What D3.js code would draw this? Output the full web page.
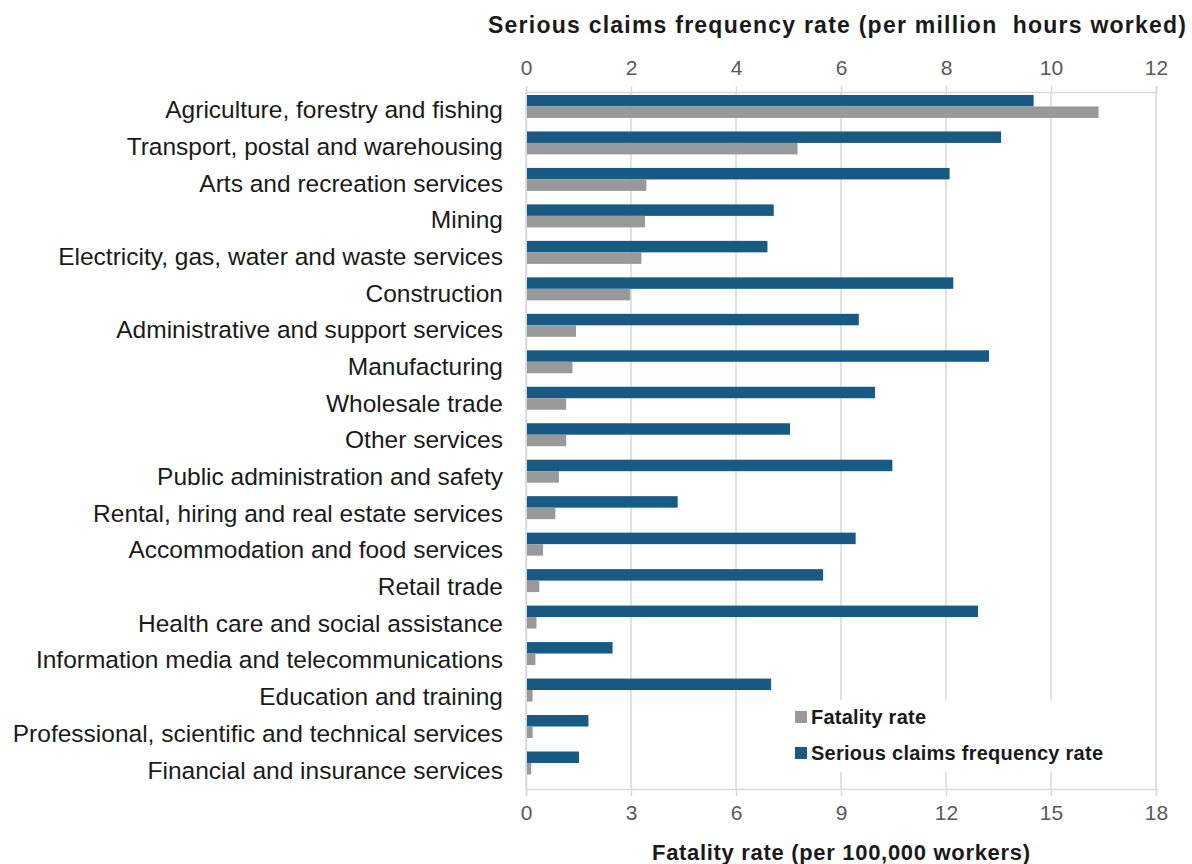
<!DOCTYPE html>
<html>
<head>
<meta charset="utf-8">
<script src="https://cdn.jsdelivr.net/npm/d3@7"></script>
<style>
  body { margin: 0; background: #fff; }
  text { font-family: "Liberation Sans", Arial, sans-serif; }
</style>
</head>
<body>
<script>
// industries, top to bottom
let categories = [
  'Agriculture, forestry and fishing',
  'Transport, postal and warehousing',
  'Arts and recreation services',
  'Mining',
  'Electricity, gas, water and waste services',
  'Construction',
  'Administrative and support services',
  'Manufacturing',
  'Wholesale trade',
  'Other services',
  'Public administration and safety',
  'Rental, hiring and real estate services',
  'Accommodation and food services',
  'Retail trade',
  'Health care and social assistance',
  'Information media and telecommunications',
  'Education and training',
  'Professional, scientific and technical services',
  'Financial and insurance services'
];

// serious claims per million hours worked (top axis)
let seriousRate = [9.65, 9.03, 8.05, 4.7, 4.58, 8.12, 6.32, 8.8, 6.63, 5.01, 6.96, 2.87, 6.26, 5.64, 8.59, 1.63, 4.65, 1.17, 0.99];
// fatalities per 100,000 workers (bottom axis)
let fatalityRate = [16.33, 7.73, 3.41, 3.37, 3.27, 2.95, 1.4, 1.3, 1.12, 1.12, 0.91, 0.81, 0.46, 0.35, 0.27, 0.24, 0.16, 0.16, 0.12];

let seriousTicks = [0, 2, 4, 6, 8, 10, 12];
let fatalityTicks = [0, 3, 6, 9, 12, 15, 18];

let frame = { width: 1192, height: 864 };
let plot = { left: 526, right: 1156, top: 92, bottom: 789 };

let svg = d3.select('body')
  .append('svg')
  .attr('width', frame.width)
  .attr('height', frame.height);

let xTop = d3.scaleLinear().domain([0, 12]).range([plot.left, plot.right]);
let xBottom = d3.scaleLinear().domain([0, 18]).range([plot.left, plot.right]);

let yRow = d3.scaleBand()
  .domain(categories)
  .range([plot.top, plot.bottom]);

let yBar = d3.scaleBand()
  .domain(categories)
  .range([plot.top, plot.bottom])
  .paddingInner(0.37)
  .paddingOuter(0.24)
  .align(0.17);

let barH = yBar.bandwidth() / 2;

// gridlines
svg.append('g')
  .selectAll('line')
  .data(seriousTicks)
  .enter()
  .append('line')
  .attr('x1', d => xTop(d))
  .attr('x2', d => xTop(d))
  .attr('y1', plot.top)
  .attr('y2', plot.bottom)
  .attr('stroke', '#d9d9d9')
  .attr('stroke-width', 1.5);

// top axis
let topAxis = svg.append('g')
  .attr('transform', `translate(0, ${plot.top})`)
  .call(d3.axisTop(xTop).tickValues(seriousTicks).tickSize(6).tickPadding(11).tickFormat(d3.format('d')));

// bottom axis
let bottomAxis = svg.append('g')
  .attr('transform', `translate(0, ${plot.bottom})`)
  .call(d3.axisBottom(xBottom).tickValues(fatalityTicks).tickSize(7).tickPadding(9).tickFormat(d3.format('d')));

[topAxis, bottomAxis].forEach(ax => {
  ax.select('.domain').attr('stroke', '#d9d9d9').attr('stroke-width', 1.5);
  ax.selectAll('.tick line').attr('stroke', '#d9d9d9').attr('stroke-width', 1.5);
  ax.selectAll('.tick text')
    .attr('fill', '#595959')
    .style('font-size', '21px')
    .style('font-family', '"Liberation Sans", Arial, sans-serif');
});

// left axis (category labels)
let leftAxis = svg.append('g')
  .attr('transform', `translate(${plot.left}, 0)`)
  .call(d3.axisLeft(yRow).tickSize(0).tickPadding(23));
leftAxis.select('.domain').attr('stroke', '#d9d9d9').attr('stroke-width', 1.5);
leftAxis.selectAll('.tick text')
  .attr('fill', '#1a1a1a')
  .style('font-size', '24.5px')
  .style('font-family', '"Liberation Sans", Arial, sans-serif');

// serious claims bars (blue, upper)
svg.selectAll('.serious')
  .data(seriousRate)
  .enter()
  .append('rect')
  .attr('class', 'serious')
  .attr('x', xTop(0) + 1)
  .attr('y', (d, i) => yBar(categories[i]))
  .attr('width', d => xTop(d) - xTop(0))
  .attr('height', barH)
  .attr('fill', '#175b85');

// fatality bars (grey, lower)
svg.selectAll('.fatal')
  .data(fatalityRate)
  .enter()
  .append('rect')
  .attr('class', 'fatal')
  .attr('x', xBottom(0) + 1)
  .attr('y', (d, i) => yBar(categories[i]) + barH)
  .attr('width', d => xBottom(d) - xBottom(0))
  .attr('height', barH)
  .attr('fill', '#999999');

// legend
let legend = svg.append('g');
legend.append('rect')
  .attr('x', 785).attr('y', 700)
  .attr('width', 330).attr('height', 72)
  .attr('fill', '#fff');

let legendItems = [
  { label: 'Fatality rate', color: '#999999', w: 115 },
  { label: 'Serious claims frequency rate', color: '#175b85', w: 292 }
];
legendItems.forEach((item, i) => {
  let ly = 717 + i * 36;
  legend.append('rect')
    .attr('x', 795).attr('y', ly - 6)
    .attr('width', 12).attr('height', 12)
    .attr('fill', item.color);
  legend.append('text')
    .attr('x', 811).attr('y', ly)
    .attr('dy', '0.35em')
    .attr('textLength', item.w)
    .style('font-size', '20px')
    .style('font-weight', 'bold')
    .attr('fill', '#1a1a1a')
    .text(item.label);
});

// axis titles
svg.append('text')
  .attr('x', 488).attr('y', 25)
  .attr('dy', '0.35em')
  .attr('textLength', 698)
  .style('font-size', '23px')
  .style('font-weight', 'bold')
  .style('white-space', 'pre')
  .attr('fill', '#1a1a1a')
  .text('Serious claims frequency rate (per million  hours worked)');

svg.append('text')
  .attr('x', 652).attr('y', 852)
  .attr('dy', '0.35em')
  .attr('textLength', 378)
  .style('font-size', '22px')
  .style('font-weight', 'bold')
  .attr('fill', '#1a1a1a')
  .text('Fatality rate (per 100,000 workers)');
</script>
</body>
</html>
